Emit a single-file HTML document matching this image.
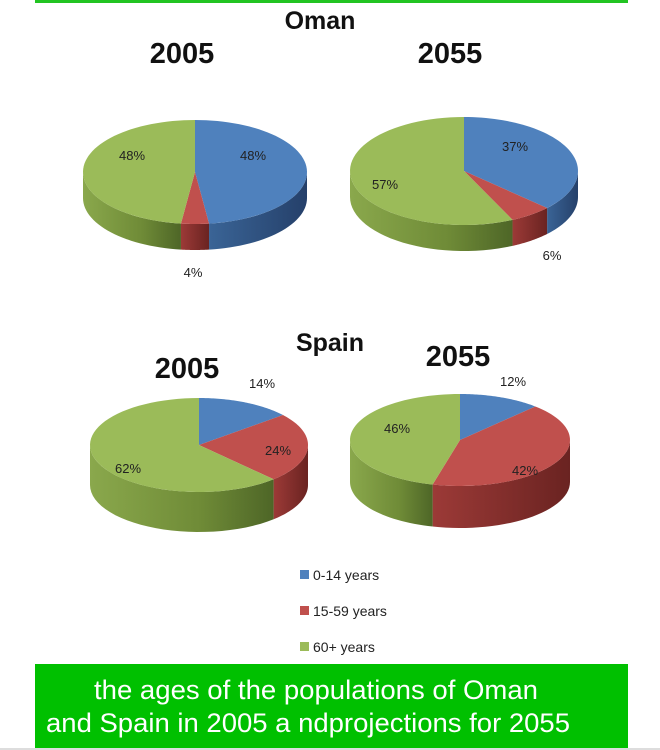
<!DOCTYPE html>
<html><head><meta charset="utf-8"><style>
body{margin:0;width:660px;height:750px;background:#fff;overflow:hidden;font-family:"Liberation Sans",sans-serif}
</style></head><body>
<svg id="s" width="660" height="750" xmlns="http://www.w3.org/2000/svg" style="position:absolute;left:0;top:0">
<defs>
<linearGradient id="gs" x1="0" x2="1" y1="0" y2="0"><stop offset="0" stop-color="#8aa84c"/><stop offset="0.6" stop-color="#6f8b37"/><stop offset="1" stop-color="#4e6627"/></linearGradient>
<linearGradient id="rs" x1="0" x2="1"><stop offset="0" stop-color="#9c3a37"/><stop offset="1" stop-color="#6a2321"/></linearGradient>
<linearGradient id="bs" x1="0" x2="1"><stop offset="0" stop-color="#3a6496"/><stop offset="1" stop-color="#25406a"/></linearGradient>
</defs>
<rect x="35" y="0" width="593" height="3" fill="#22c422"/>
<g id="pies"></g>
<g font-weight="bold" text-anchor="middle" fill="#111">
<text x="320" y="29" font-size="25">Oman</text>
<text x="182" y="63" font-size="29">2005</text>
<text x="450" y="63" font-size="29">2055</text>
<text x="330" y="351" font-size="25">Spain</text>
<text x="187" y="378" font-size="29">2005</text>
<text x="458" y="366" font-size="29">2055</text>
</g>
<g font-size="13" text-anchor="middle" fill="#222">
<text x="132" y="160">48%</text><text x="253" y="160">48%</text><text x="193" y="277">4%</text>
<text x="515" y="151">37%</text><text x="385" y="189">57%</text><text x="552" y="260">6%</text>
<text x="262" y="388">14%</text><text x="278" y="455">24%</text><text x="128" y="473">62%</text>
<text x="513" y="386">12%</text><text x="397" y="433">46%</text><text x="525" y="475">42%</text>
</g>
<rect x="300" y="570" width="9" height="9" fill="#4f81bd"/>
<rect x="300" y="606" width="9" height="9" fill="#c0504d"/>
<rect x="300" y="642" width="9" height="9" fill="#9bbb59"/>
<g font-size="14" fill="#222">
<text x="313" y="580">0-14 years</text><text x="313" y="616">15-59 years</text><text x="313" y="652">60+ years</text>
</g>
<rect x="35" y="664" width="593" height="84" fill="#00c000"/>
<rect x="0" y="748" width="660" height="2" fill="#ddd"/>
<g font-size="27" fill="#fff">
<text x="94" y="699" textLength="444" lengthAdjust="spacingAndGlyphs">the ages of the populations of Oman</text>
<text x="46" y="732" textLength="524" lengthAdjust="spacingAndGlyphs">and Spain in 2005 a ndprojections for 2055</text>
</g>
</svg>
<script>
var pies=[
 {cx:195,cy:172,rx:112,ry:52,d:26,v:[48,4,48]},
 {cx:464,cy:171,rx:114,ry:54,d:26,v:[37,6,57]},
 {cx:199,cy:445,rx:109,ry:47,d:40,v:[14,24,62]},
 {cx:460,cy:440,rx:110,ry:46,d:42,v:[12,42,46]}];
var topc=["#4f81bd","#c0504d","#9bbb59"],sidec=["url(#bs)","url(#rs)","url(#gs)"];
var out="";
function pt(p,a,dy){return [(p.cx+p.rx*Math.sin(a)).toFixed(2),(p.cy-p.ry*Math.cos(a)+(dy||0)).toFixed(2)];}
pies.forEach(function(p){
 var a=0,sl=[];
 p.v.forEach(function(v,i){var b=a+v/100*2*Math.PI;sl.push([a,b,i]);a=b;});
 sl.forEach(function(s){
  var a1=Math.max(s[0],Math.PI/2),a2=Math.min(s[1],3*Math.PI/2);
  if(a2<=a1)return;
  var d="M"+pt(p,a1)+" ";var n=30;
  for(var k=1;k<=n;k++)d+="L"+pt(p,a1+(a2-a1)*k/n)+" ";
  for(k=n;k>=0;k--)d+="L"+pt(p,a1+(a2-a1)*k/n,p.d)+" ";
  out+='<path d="'+d+'Z" fill="'+sidec[s[2]]+'"/>';
 });
 sl.forEach(function(s){
  var d="M"+p.cx+","+p.cy+" ";var n=60;
  for(var k=0;k<=n;k++)d+="L"+pt(p,s[0]+(s[1]-s[0])*k/n)+" ";
  out+='<path d="'+d+'Z" fill="'+topc[s[2]]+'"/>';
 });
});
document.getElementById("pies").innerHTML=out;
</script>
</body></html>
